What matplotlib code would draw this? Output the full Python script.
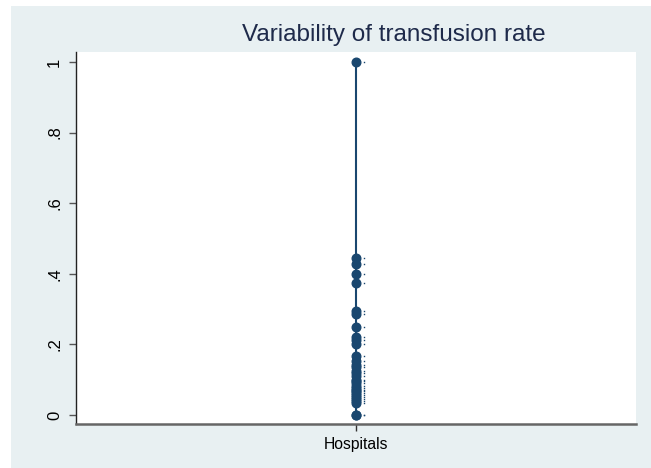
import matplotlib
matplotlib.use("Agg")
import matplotlib.pyplot as plt
import matplotlib.transforms as mtransforms
from matplotlib.patches import Rectangle

category = ["Hospitals"]
rates = [1.0, 0.444, 0.429, 0.4, 0.375, 0.294, 0.286, 0.25, 0.222, 0.211, 0.2,
         0.167, 0.154, 0.143, 0.136, 0.125, 0.118, 0.111, 0.1, 0.095, 0.091,
         0.083, 0.077, 0.071, 0.067, 0.063, 0.056, 0.05, 0.045, 0.04, 0.033,
         0.0, 0.0]
yticks = [0, 0.2, 0.4, 0.6, 0.8, 1.0]
yticklabels = ["0", ".2", ".4", ".6", ".8", "1"]
title = "Variability of transfusion rate"

plt.rcParams['font.family'] = ['Liberation Sans', 'DejaVu Sans']
navy = '#1a476f'

fig = plt.figure(figsize=(6.51, 4.68), dpi=100)
fig.patch.set_facecolor('white')
bg = Rectangle((11/651, 0), 1 - 11/651, (468 - 6)/468,
               transform=fig.transFigure, facecolor='#e8f0f2',
               edgecolor='none', zorder=-10)
fig.add_artist(bg)

ax = fig.add_axes([76/651, (468-424)/468, (636-76)/651, (424-52)/468])
ax.set_zorder(1)
ax.set_facecolor('white')

xs = [1] * len(rates)
ax.plot([1, 1], [min(rates), max(rates)], color=navy, lw=1.5, zorder=2)
ax.plot(xs, rates, 'o', color=navy, ms=6.2, mec=navy, zorder=3)
off = mtransforms.ScaledTranslation(8/100, 0, fig.dpi_scale_trans)
ax.plot(xs, rates, 's', color=navy, ms=1.0, mew=0, transform=ax.transData + off, zorder=3)

ax.set_xlim(0, 2)
ax.set_ylim(-0.0255, 1.028)
ax.set_xticks([1])
ax.set_xticklabels(category, fontsize=11.3)
ax.set_yticks(yticks)
ax.set_yticklabels(yticklabels, fontsize=12, rotation=90, va='center')
ax.tick_params(axis='y', length=5, width=1, color='#555555', pad=5)
ax.tick_params(axis='x', length=5, width=1, color='#333333', pad=4)
for s in ['top', 'right']:
    ax.spines[s].set_visible(False)
ax.spines['left'].set_color('#222222')
ax.spines['left'].set_linewidth(1.0)
ax.spines['bottom'].set_color('#666666')
ax.spines['bottom'].set_linewidth(1.8)

fig.text(394/651, 1 - 35/468, title, ha='center', va='center', fontsize=17.5,
         color='#1e2a4a')

fig.savefig('out.png', dpi=100)
